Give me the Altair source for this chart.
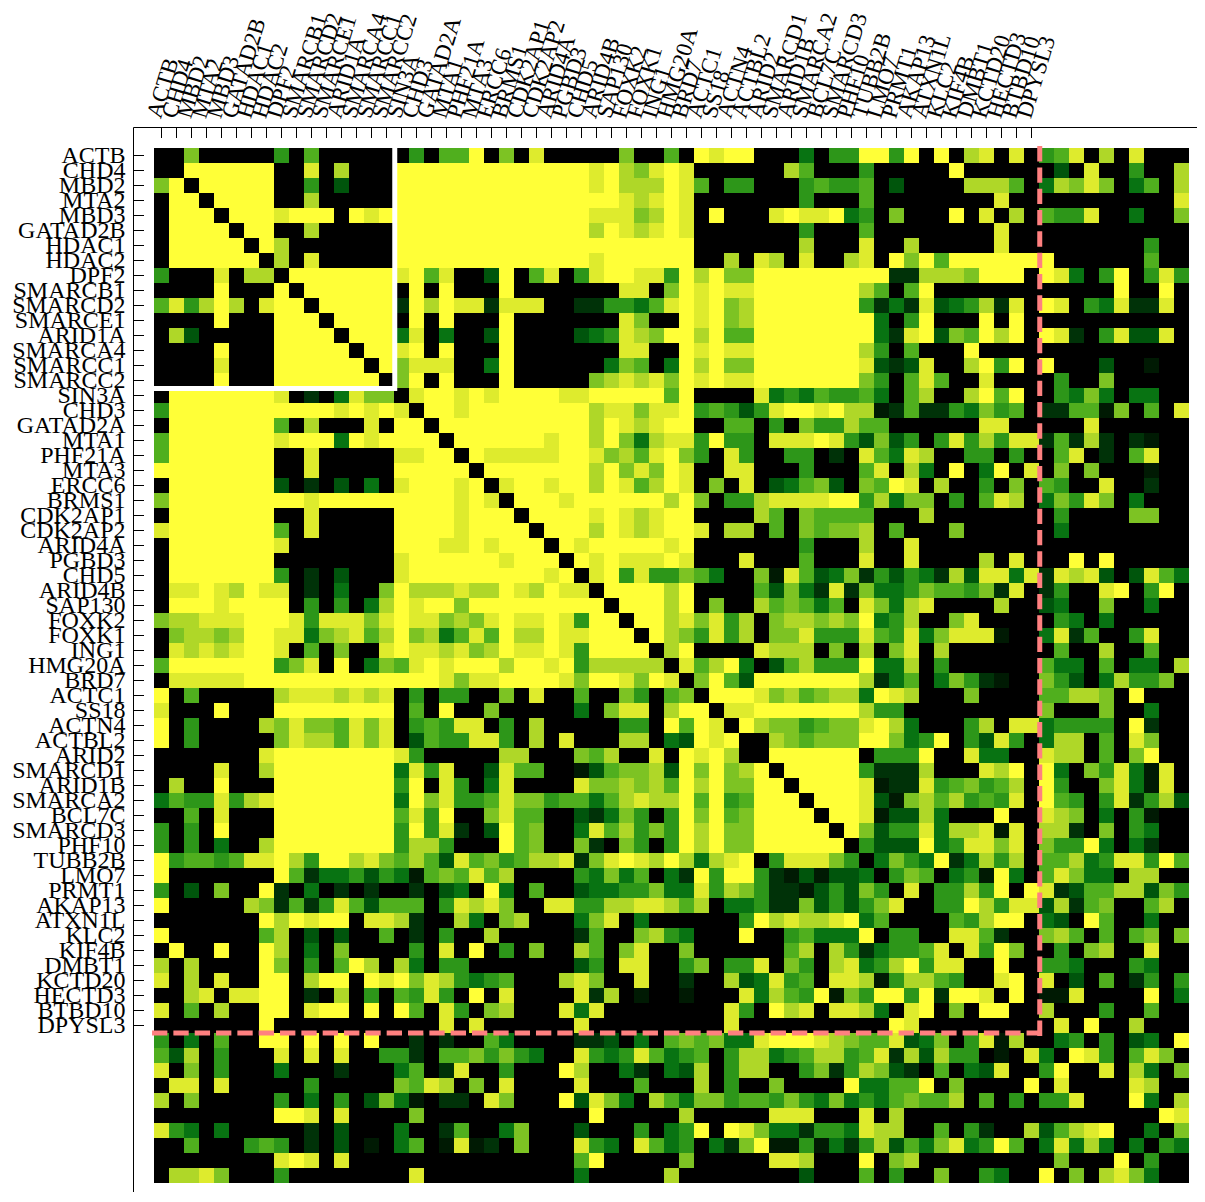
import json
import altair as alt
import pandas as pd

alt.data_transformers.disable_max_rows()

LABELS = ["ACTB","CHD4","MBD2","MTA2","MBD3","GATAD2B","HDAC1","HDAC2","DPF2","SMARCB1","SMARCD2","SMARCE1",
          "ARID1A","SMARCA4","SMARCC1","SMARCC2","SIN3A","CHD3","GATAD2A","MTA1","PHF21A","MTA3","ERCC6","BRMS1",
          "CDK2AP1","CDK2AP2","ARID4A","PGBD3","CHD5","ARID4B","SAP130","FOXK2","FOXK1","ING1","HMG20A","BRD7",
          "ACTC1","SS18","ACTN4","ACTBL2","ARID2","SMARCD1","ARID1B","SMARCA2","BCL7C","SMARCD3","PHF10","TUBB2B",
          "LMO7","PRMT1","AKAP13","ATXN1L","KLC2","KIF4B","DMBT1","KCTD20","HECTD3","BTBD10","DPYSL3"]
N = 69

# Upper triangle of the symmetric matrix.
A = ["0600000405000000405590","999999008070009999999","99999004020009999999","9999007000009999999",
     "999899909899999999","99007000009999999","9700000009999999","708000009999999","99999998958002",
     "9999990909000","999991979881","99990909000","9993803002","998909000","96888003","6909000","899898",
     "99899","9999","999","98","9",""]
B = ["60800000600509899000304","99999989768980000007500","99999989777985044000454","99999999878980000000400",
     "99999988867980900089889","99999979878980000000400","99999999999990000000700","99999989999990070870800",
     "90580489988497966999999","90000000880698988999999","88800114435898967999999","90000000860098967999999",
     "90000234876997955999999","90000000880098988999999","90000003650397966999999","90000067878698988999999",
     "99998899999590000834354","99999978868894542489989","99999979878990055040644","99989979637884944088898",
     "88889986758964084004401","99999979686980088000400","89989979857980608023562"]
C = ["49949090780804580708000","04000009000000208004007","45020000777503768603507","05000000008000000000008",
     "34060009080705448003006","05000000008000000000000","08007000008000000000400","78096959999999000000500",
     "99911777699909830490484","97505900000000000090090","94131823471809804381180","99304900090900000000000",
     "99318926597909810482280","97405000900000000000000","98212800794909000200a00","96405850080000400600000",
     "45305700795900436303300","77a15114364501155a60508","75500000088000008000000","42624048474881517101a00",
     "08538700440400580105800","05807309039080606000a00","06598070040605400800100"]
D = ["9998999999796044788889","999989878990000750655","99979878998077050656","9899999890000000400",
     "989888980008000500","894844653006a8523","9999790000526318","999790600756535","99786847067767",
     "9764847066844","790000877706","85793025744","6952999999","999867567","88999999","9766456","076566",
     "99999","9999","999","99","9",""]
E = ["94736604058703648603000","55000700000000400006600","67050006000000300000000","07008000000000000000000",
     "08008000070800090900000","61424317288381878202853","16334655461801400890490","08637800007002300600300",
     "69347006800000430300000","4854836888a003815004800","07068070000000500700500","49337040000005330503307",
     "9713503641a006420374460","73987000600005577609000","97440000000006000600300","68973000470883444409100",
     "69963490428403770508600","90444900833008770506900","94111700087909306483a80","98a11845645709400683a80",
     "982a6757454809540481472","98a22730009008760304a00","9624483778a807710604300"]
F = ["4222934886806449303100","364391374705573488495","465034a9305863307700",
     "8044749098125577264","044974882715600570","05479903209500300","8851006750505606","849600406700800",
     "09004430004300","8908020501404","90aa80000903","07000400500","0809007000","340402309","98405860",
     "0807306","008700","09307","0098","306","43","0",""]

ROWS = [a + b + c for a, b, c in zip(A, B, C)] + [d + e for d, e in zip(D, E)] + F
LEVEL_DOMAIN = ["0", "a", "1", "2", "3", "4", "5", "6", "7", "8", "9"]
LEVEL_RANGE = ["#000000", "#001a03", "#003208", "#00550c", "#087312", "#2d9619", "#50af1e",
               "#7dc323", "#afd728", "#deeb2d", "#ffff37"]

records = []
for r in range(N):
    records.append({"c": r, "c2": r + 1, "r": r, "r2": r + 1, "v": "0"})
    for k, ch in enumerate(ROWS[r]):
        c = r + 1 + k
        records.append({"c": c, "c2": c + 1, "r": r, "r2": r + 1, "v": ch})
        records.append({"c": r, "c2": r + 1, "r": c, "r2": c + 1, "v": ch})
cells = pd.DataFrame(records)

TICKS = [i + 0.5 for i in range(len(LABELS))]
ticks = pd.DataFrame({"t": TICKS})
names = json.dumps(LABELS)

xscale = alt.Scale(domain=[-1.4, 69.5333], nice=False, zero=False)
yscale = alt.Scale(domain=[-1.4, 69.6], nice=False, zero=False, reverse=True)
FONT = "Liberation Serif"
xaxis = alt.Axis(
    orient="top", values=TICKS, labelExpr=f"{names}[round(datum.value-0.5)]", ticks=False, grid=False,
    domainColor="#000000", domainWidth=1, labelColor="#000000", labelFont=FONT, labelFontSize=23,
    labelAngle=287, labelAlign="left", labelBaseline="middle", labelPadding=10, labelOffset=-8,
    labelOverlap=False, labelBound=False, labelFlush=False)
yaxis = alt.Axis(
    orient="left", values=TICKS, labelExpr=f"{names}[round(datum.value-0.5)]", ticks=False, grid=False,
    domainColor="#000000", domainWidth=1, labelColor="#000000", labelFont=FONT, labelFontSize=24,
    labelPadding=8, labelOverlap=False, labelBound=False, labelFlush=False)

def X(f):
    return alt.X(f, scale=xscale, title=None, axis=xaxis)

def Y(f):
    return alt.Y(f, scale=yscale, title=None, axis=yaxis)

heat = alt.Chart(cells).mark_rect(strokeWidth=0).encode(
    x=X("c:Q"), x2="c2:Q", y=Y("r:Q"), y2="r2:Q",
    color=alt.Color("v:N", scale=alt.Scale(domain=LEVEL_DOMAIN, range=LEVEL_RANGE), legend=None),
)

white_h = alt.Chart(pd.DataFrame({"y": [16.03], "a": [0], "b": [16.2]})).mark_rule(color="white", size=5).encode(
    y=Y("y:Q"), x=X("a:Q"), x2="b:Q")
white_v = alt.Chart(pd.DataFrame({"x": [16.05], "a": [0], "b": [16.2]})).mark_rule(color="white", size=5).encode(
    x=X("x:Q"), y=Y("a:Q"), y2="b:Q")
pink_h = alt.Chart(pd.DataFrame({"y": [59.0], "a": [-0.13], "b": [59.2]})).mark_rule(
    color="#ff8080", size=5, strokeDash=[15.33, 6]).encode(
    y=Y("y:Q"), x=X("a:Q"), x2="b:Q")
pink_v = alt.Chart(pd.DataFrame({"x": [59.05], "a": [-0.13], "b": [59.2]})).mark_rule(
    color="#ff8080", size=5, strokeDash=[15.33, 6]).encode(
    x=X("x:Q"), y=Y("a:Q"), y2="b:Q")
xticks = alt.Chart(ticks).mark_rule(color="#000000", size=1).encode(
    x=X("t:Q"), y=alt.value(0), y2=alt.value(11))
yticks = alt.Chart(ticks).mark_rule(color="#000000", size=1).encode(
    y=Y("t:Q"), x=alt.value(0), x2=alt.value(11))

chart = alt.layer(heat, white_h, white_v, pink_h, pink_v, xticks, yticks).properties(
    width=1064, height=1065, autosize="none",
    padding={"left": 125, "top": 119, "right": 0, "bottom": 0},
).configure_view(stroke=None)

chart.save("out.html", embed_options={"renderer": "svg", "actions": False})
